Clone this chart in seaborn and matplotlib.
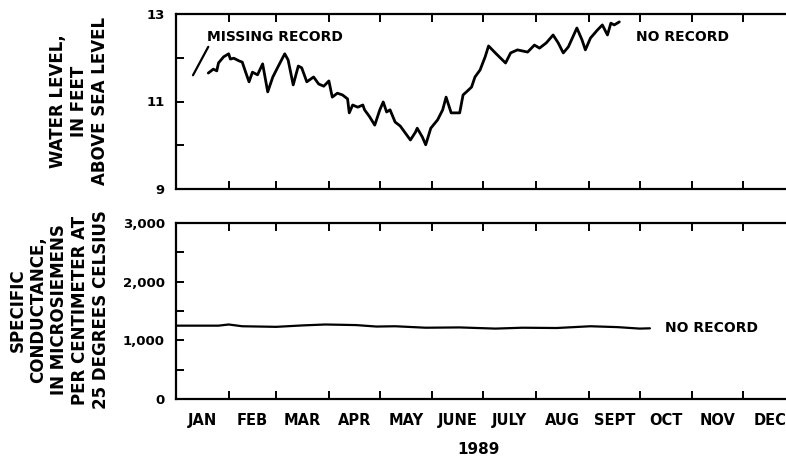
import numpy as np
import pandas as pd
import seaborn as sns
import matplotlib.pyplot as plt

# day of year 1989 (0 = Jan 1)
level_days = [19, 22, 24, 25, 28, 31, 32, 34, 37, 39, 41, 43, 45, 48, 51, 54, 57, 60,
              64, 66, 69, 72, 74, 77, 81, 84, 87, 90, 92, 95, 98, 101, 102, 104, 107,
              110, 111, 114, 117, 120, 122, 124, 126, 129, 132, 135, 138, 141, 142,
              145, 147, 150, 154, 157, 159, 162, 165, 167, 169, 171, 174, 176, 179,
              182, 184, 188, 194, 197, 201, 207, 211, 214, 218, 222, 225, 228, 231,
              236, 239, 241, 244, 248, 251, 254, 256, 258, 261]
level_ft = [11.65, 11.74, 11.70, 11.88, 12.02, 12.09, 11.97, 11.99, 11.93, 11.90, 11.67,
            11.45, 11.67, 11.61, 11.86, 11.22, 11.56, 11.79, 12.09, 11.95, 11.38, 11.81,
            11.77, 11.45, 11.56, 11.40, 11.35, 11.47, 11.10, 11.19, 11.15, 11.06, 10.74,
            10.92, 10.87, 10.92, 10.81, 10.65, 10.46, 10.81, 10.99, 10.76, 10.81, 10.53,
            10.44, 10.28, 10.12, 10.30, 10.39, 10.19, 10.01, 10.39, 10.58, 10.81, 11.10,
            10.74, 10.74, 10.74, 11.15, 11.22, 11.33, 11.56, 11.72, 12.02, 12.27, 12.11,
            11.88, 12.11, 12.18, 12.13, 12.29, 12.22, 12.34, 12.52, 12.34, 12.11, 12.25,
            12.68, 12.41, 12.18, 12.45, 12.63, 12.75, 12.52, 12.79, 12.75, 12.82]

# short "missing record" stroke before the record starts
missing_days = [10, 19]
missing_ft = [11.6, 12.25]

cond_days = [0, 25, 31, 39, 59, 75, 88, 106, 118, 129, 147, 167, 188, 204, 224, 244,
             260, 273, 279]
cond_us = [1250, 1250, 1270, 1240, 1230, 1255, 1270, 1260, 1235, 1240, 1215, 1220,
           1200, 1215, 1210, 1240, 1225, 1200, 1205]

months = ['JAN', 'FEB', 'MAR', 'APR', 'MAY', 'JUNE', 'JULY', 'AUG', 'SEPT', 'OCT', 'NOV', 'DEC']
month_starts = [0, 31, 59, 90, 120, 151, 181, 212, 243, 273, 304, 334, 365]

sns.set_theme(style='ticks', rc={'text.color': 'black', 'axes.edgecolor': 'black',
                                 'xtick.color': 'black', 'ytick.color': 'black',
                                 'axes.labelcolor': 'black'})
plt.rcParams['font.family'] = ['DejaVu Sans']
plt.rcParams['font.weight'] = 'bold'

fig = plt.figure(figsize=(7.86, 4.58), dpi=100)
W, H = 786, 458
ax1 = fig.add_axes([176 / W, 1 - 189 / H, 620 / W, 175 / H])
ax2 = fig.add_axes([176 / W, 1 - 399 / H, 620 / W, 176 / H])

sns.lineplot(x=level_days, y=level_ft, ax=ax1, color='black', lw=2.0, sort=False, estimator=None)
sns.lineplot(x=missing_days, y=missing_ft, ax=ax1, color='black', lw=1.6, sort=False, estimator=None)
sns.lineplot(x=cond_days, y=cond_us, ax=ax2, color='black', lw=1.6, sort=False, estimator=None)

mids = [(a + b) / 2 for a, b in zip(month_starts[:-1], month_starts[1:])]

for ax in (ax1, ax2):
    ax.set_xlim(0, 365)
    ax.set_xticks(month_starts[1:-1])
    ax.set_xticks(mids, minor=True)
    ax.set_xticklabels([])
    ax.set_xlabel('')
    ax.set_ylabel('')
    ax.spines['right'].set_visible(False)
    for s in ('left', 'top', 'bottom'):
        ax.spines[s].set_linewidth(1.6)
    ax.tick_params(axis='both', which='major', direction='in', length=5.5, width=1.4,
                   top=True, bottom=True, left=True, right=False, labelsize=9.5, pad=8)
    ax.tick_params(axis='x', which='minor', length=0)

ax1.set_ylim(9, 13)
ax1.set_yticks([9, 10, 11, 12, 13])
ax1.set_yticklabels(['9', '', '11', '', '13'])

ax2.set_ylim(0, 3000)
ax2.set_yticks(np.arange(0, 3001, 500))
ax2.set_yticklabels(['0', '', '1,000', '', '2,000', '', '3,000'])
ax2.set_xticklabels(months, minor=True)
ax2.tick_params(axis='x', which='minor', labelsize=10.5, pad=10)

ax1.text(18, 12.47, 'MISSING RECORD', fontsize=10, fontweight='bold', va='center', ha='left')
ax1.text(271, 12.47, 'NO RECORD', fontsize=10, fontweight='bold', va='center', ha='left')
ax2.text(288, 1210, 'NO RECORD', fontsize=10, fontweight='bold', va='center', ha='left')

fig.text(79 / W, 1 - 101 / H, 'WATER LEVEL,\nIN FEET\nABOVE SEA LEVEL', rotation=90,
         ha='center', va='center', multialignment='center', fontsize=12,
         fontweight='bold', linespacing=1.2)
fig.text(59 / W, 1 - 310 / H,
         'SPECIFIC\nCONDUCTANCE,\nIN MICROSIEMENS\nPER CENTIMETER AT\n25 DEGREES CELSIUS',
         rotation=90, ha='center', va='center', multialignment='center', fontsize=12,
         fontweight='bold', linespacing=1.2)
fig.text(478 / W, 1 - 450 / H, '1989', ha='center', va='center', fontsize=11, fontweight='bold')

fig.savefig('out.png', dpi=100, facecolor='white')
